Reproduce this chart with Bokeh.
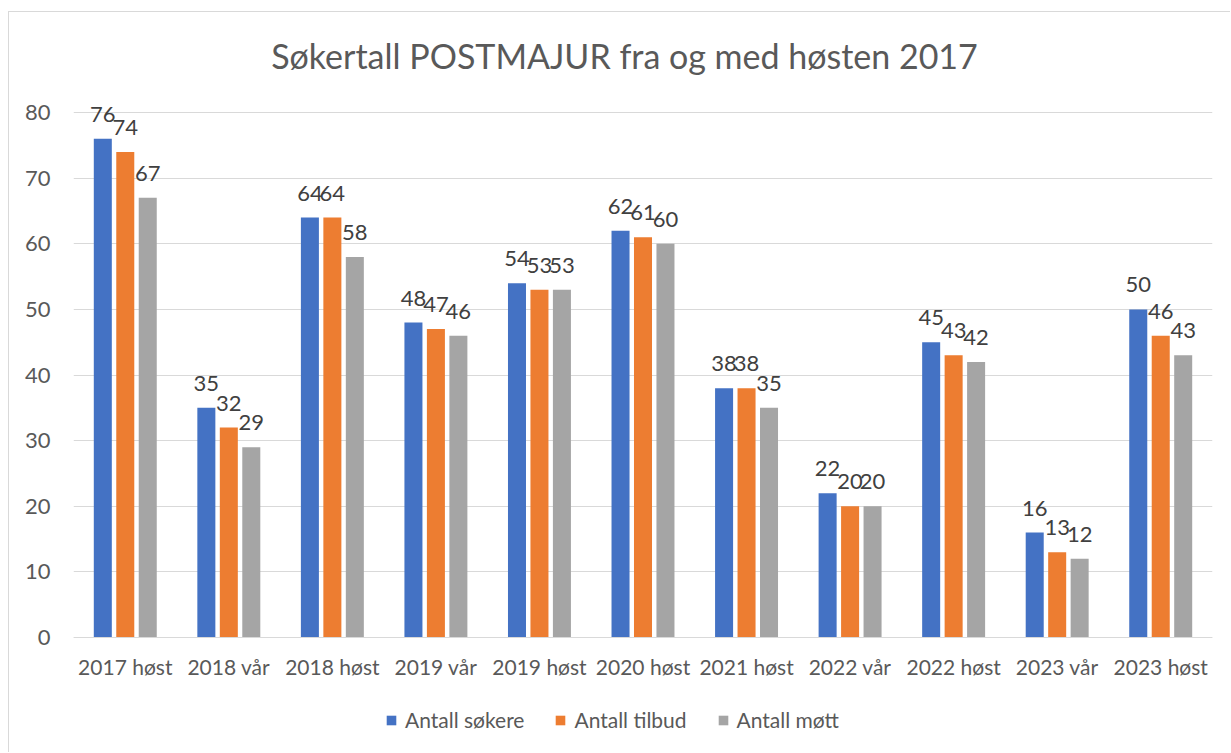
from bokeh.plotting import figure
from bokeh.models import ColumnDataSource, FactorRange, LabelSet, Label, Legend, LegendItem, FixedTicker, Range1d, InlineStyleSheet
from bokeh.transform import dodge
from bokeh.core.properties import value
from bokeh.embed import file_html
from bokeh.resources import INLINE

categories = ["2017 høst", "2018 vår", "2018 høst", "2019 vår", "2019 høst", "2020 høst",
              "2021 høst", "2022 vår", "2022 høst", "2023 vår", "2023 høst"]
sokere = [76, 35, 64, 48, 54, 62, 38, 22, 45, 16, 50]
tilbud = [74, 32, 64, 47, 53, 61, 38, 20, 43, 13, 46]
mott = [67, 29, 58, 46, 53, 60, 35, 20, 42, 12, 43]
series_names = ["Antall søkere", "Antall tilbud", "Antall møtt"]
y_ticks = [0, 10, 20, 30, 40, 50, 60, 70, 80]
title_text = "Søkertall POSTMAJUR fra og med høsten 2017"

colors = ["#4472C4", "#ED7D31", "#A5A5A5"]
FONT = "Lato"
TXT = "#595959"

src = ColumnDataSource(dict(cat=categories, s=sokere, t=tilbud, m=mott,
                            sl=[str(v) for v in sokere], tl=[str(v) for v in tilbud], ml=[str(v) for v in mott]))

W, H = 1222, 741
PX = 525 / 80.0          # pixels per unit
Y0 = 625                 # canvas y of the value 0
y_start = -(H - Y0) / PX
y_end = Y0 / PX

p = figure(x_range=FactorRange(*categories), y_range=Range1d(y_start, y_end), width=W, height=H,
           output_backend="svg", toolbar_location=None,
           min_border_left=64, min_border_right=19, min_border_top=0, min_border_bottom=0)
p.stylesheets = [InlineStyleSheet(css=":host { border-left: 1px solid #d9d9d9; border-top: 1px solid #d9d9d9; margin-left: 8px; margin-top: 11px; }")]
p.outline_line_color = None
p.background_fill_color = "white"
p.border_fill_color = "white"

offsets = [-0.217, 0.0, 0.217]
cols = ["s", "t", "m"]
lcols = ["sl", "tl", "ml"]
renderers = []
for off, c, lc, col in zip(offsets, cols, lcols, colors):
    r = p.vbar(x=dodge("cat", off, range=p.x_range), top=c, width=0.174, source=src,
               fill_color=col, line_color=None)
    renderers.append(r)
    ls = LabelSet(x=dodge("cat", off, range=p.x_range), y=c, text=lc, source=src,
                  text_align="center", text_baseline="alphabetic", y_offset=17,
                  text_font=value(FONT), text_font_size=value("22px"), text_color=value("#404040"))
    p.add_layout(ls)

p.yaxis.ticker = FixedTicker(ticks=y_ticks)
p.yaxis.axis_line_color = None
p.yaxis.major_tick_line_color = None
p.yaxis.minor_tick_line_color = None
p.yaxis.major_tick_out = 0
p.yaxis.major_label_standoff = 23
p.yaxis.major_label_text_font = FONT
p.yaxis.major_label_text_font_size = "22px"
p.yaxis.major_label_text_color = TXT

p.xaxis.fixed_location = 0
p.xaxis.axis_line_color = "#d9d9d9"
p.xaxis.major_tick_line_color = None
p.xaxis.major_tick_out = 0
p.xaxis.major_tick_in = 0
p.xaxis.major_label_standoff = 16
p.xaxis.major_label_text_font = FONT
p.xaxis.major_label_text_font_size = "21px"
p.xaxis.major_label_text_color = TXT

p.xgrid.grid_line_color = None
p.ygrid.grid_line_color = "#d9d9d9"
p.ygrid.grid_line_width = 1

p.add_layout(Label(x=551, y=(637 - 55) / PX, x_units="screen", y_units="data", text=title_text,
                   text_align="center", text_baseline="alphabetic", text_font=FONT,
                   text_font_size="34px", text_color=TXT))

legend = Legend(items=[LegendItem(label=n, renderers=[r]) for n, r in zip(series_names, renderers)],
                orientation="horizontal", location=(312, 21),
                glyph_width=12, glyph_height=12, label_standoff=8, spacing=30,
                label_text_font=FONT, label_text_font_size="21px", label_text_color=TXT,
                border_line_color=None, background_fill_alpha=0, padding=4, margin=0)
p.add_layout(legend, "center")

open("out.html", "w").write(file_html(p, INLINE))
